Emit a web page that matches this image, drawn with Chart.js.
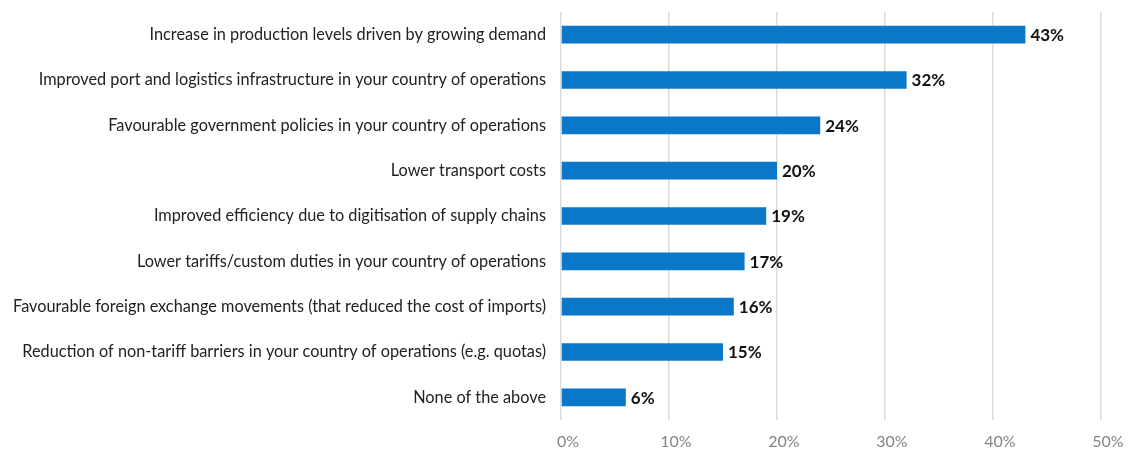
<!DOCTYPE html>
<html>
<head>
<meta charset="utf-8">
<script src="https://cdn.jsdelivr.net/npm/chart.js@4"></script>
<style>
html,body{margin:0;padding:0;background:#fff;}
#wrap{width:1141px;height:455px;position:relative;}
</style>
</head>
<body>
<div id="wrap"><canvas id="c"></canvas></div>
<script>
const categories = [
  "Increase in production levels driven by growing demand",
  "Improved port and logistics infrastructure in your country of operations",
  "Favourable government policies in your country of operations",
  "Lower transport costs",
  "Improved efficiency due to digitisation of supply chains",
  "Lower tariffs/custom duties in your country of operations",
  "Favourable foreign exchange movements (that reduced the cost of imports)",
  "Reduction of non-tariff barriers in your country of operations (e.g. quotas)",
  "None of the above"
];
const values = [43, 32, 24, 20, 19, 17, 16, 15, 6];
const xTicks = [0, 10, 20, 30, 40, 50];

const FONT = "Lato, 'Noto Sans', sans-serif";

const valueLabels = {
  id: 'valueLabels',
  afterDatasetsDraw(chart) {
    const ctx = chart.ctx;
    const meta = chart.getDatasetMeta(0);
    ctx.save();
    ctx.font = "bold 17px " + FONT;
    ctx.fillStyle = "#111";
    ctx.textAlign = "left";
    ctx.textBaseline = "middle";
    meta.data.forEach((bar, i) => {
      ctx.fillText(values[i] + "%", bar.x + 5, bar.y + 1);
    });
    ctx.restore();
  }
};

new Chart(document.getElementById('c'), {
  type: 'bar',
  data: {
    labels: categories,
    datasets: [{
      data: values,
      backgroundColor: '#0B77C8',
      borderWidth: 0,
      barPercentage: 0.39,
      categoryPercentage: 1.0
    }]
  },
  options: {
    indexAxis: 'y',
    responsive: true,
    maintainAspectRatio: false,
    animation: false,
    layout: { padding: { top: 12, right: 40, bottom: 0, left: 0 } },
    plugins: { legend: { display: false }, tooltip: { enabled: false } },
    scales: {
      x: {
        min: 0, max: 50,
        afterBuildTicks(axis) { axis.ticks = xTicks.map(v => ({ value: v })); },
        afterFit(axis) { axis.height = 35; },
        border: { display: false },
        grid: { color: '#DCDCDC', lineWidth: 1.5, drawTicks: false },
        ticks: {
          padding: 12,
          labelOffset: 7,
          color: '#858585',
          font: { family: FONT, size: 16 },
          callback: v => v + '%'
        }
      },
      y: {
        afterFit(axis) { axis.width = 561; axis.paddingTop = 0; axis.paddingBottom = 0; },
        border: { display: false },
        grid: { display: false, drawTicks: false },
        ticks: {
          padding: 15,
          color: '#222',
          font: { family: FONT, size: 16.3 },
          autoSkip: false
        }
      }
    }
  },
  plugins: [valueLabels]
});
</script>
</body>
</html>
